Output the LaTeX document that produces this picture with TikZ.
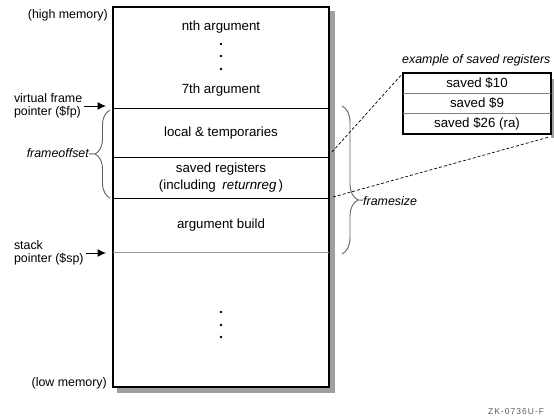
\documentclass[tikz,border=0pt]{standalone}
\usepackage{fontspec}
\setmainfont{Liberation Sans}
\usetikzlibrary{arrows.meta, decorations.pathreplacing}

\begin{document}
\begin{tikzpicture}[x=1pt, y=-1pt,
    txt/.style={font=\fontsize{13.3}{15}\selectfont, inner sep=0pt},
    lbl/.style={font=\fontsize{12.4}{13.5}\selectfont, inner sep=0pt, align=left},
    ital/.style={inner sep=0pt, font=\fontsize{12.4}{13.5}\selectfont\itshape},
    ptr/.style={-{Latex[length=8.5pt, width=8pt]}, line width=1pt},
    bracepath/.style={gray!75!black, line width=0.9pt, decorate,
      decoration={brace, amplitude=#1}},
    shadow/.style={fill=gray!75, draw=none},
    memline/.style={line width=0.8pt},
    savedash/.style={line width=0.7pt, dash pattern=on 3pt off 2pt}]
  \useasboundingbox (0,0) rectangle (554,420);
  \fill[shadow] (117,11) rectangle (335,393);
  \node[draw, line width=1.4pt, fill=white, minimum width=216pt,
    minimum height=380pt, inner sep=0pt] (frame) at (221,197) {};
  \foreach \y in {108,157,198}
    {\draw[memline] (113,\y) -- (329,\y);}
  \draw[memline, gray!80, line width=1pt] (113,252) -- (329,252);
  \node[txt] (nth) at (221,27) {nth argument};
  \node[txt] (seventh) at (221,90) {7th argument};
  \node[txt] (locals) at (221,133) {local \& temporaries};
  \node[txt] (savedregs) at (221,169) {saved registers};
  \node[txt] (incl) at (221,186) {(including\enspace\textit{returnreg}\,)};
  \node[txt] (argbuild) at (221,225) {argument build};
  \foreach \y in {44,56,69,312,325,337}
    {\fill (221,\y) circle (1.3pt);}
  \node[lbl, anchor=east] (himem) at (108,15) {(high memory)};
  \node[lbl, anchor=east] (lomem) at (107,383) {(low memory)};
  \node[lbl, anchor=west, outer sep=2pt] (fp) at (12,106) {virtual frame\\pointer (\$fp)};
  \node[lbl, anchor=west, outer sep=2pt] (sp) at (12,253) {stack\\pointer (\$sp)};
  \coordinate (fptip) at (106,106);
  \coordinate (sptip) at (106,253);
  \draw[ptr] (fp) -- (fptip);
  \draw[ptr] (sp) -- (sptip);
  \draw[bracepath=15pt] (110,198) -- (110,110);
  \node[ital, anchor=east] (foff) at (89,153) {frameoffset};
  \coordinate (fofftip) at (95,154);
  \draw[gray!75!black, line width=0.9pt] (foff) -- (fofftip);
  \draw[bracepath=16pt, decoration={aspect=0.635}] (342,106) -- (342,254);
  \node[ital, anchor=west] (fsize) at (363,201) {framesize};
  \coordinate (fsizetip) at (358,200);
  \draw[gray!75!black, line width=0.9pt] (fsizetip) -- (fsize);
  \coordinate (savedtop) at (332,152);
  \coordinate (savedbot) at (333,197);
  \fill[shadow] (551,79) rectangle (555,138);
  \draw[savedash] (savedtop) -- (403,73);
  \draw[savedash] (savedbot) -- (549,137);
  \node[draw, line width=1.4pt, fill=white, minimum width=148pt,
    minimum height=61pt, inner sep=0pt] (savebox) at (477,103.5) {};
  \draw[gray] (403,93) -- (551,93);
  \draw[gray] (403,113) -- (551,113);
  \foreach \y/\r/\t in {83/r10/{saved \$10}, 103/r9/{saved \$9}, 124/r26/{saved \$26 (ra)}}
    {\node[txt] (\r) at (477,\y) {\t};}
  \node[ital, anchor=west] (extitle) at (402,60) {example of saved registers};
  \node[anchor=west, inner sep=0pt, text=gray!70!black,
    font=\fontsize{8.5}{10}\selectfont\addfontfeatures{LetterSpace=12}] (figid) at (488,412) {ZK-0736U-F};
\end{tikzpicture}
\end{document}
